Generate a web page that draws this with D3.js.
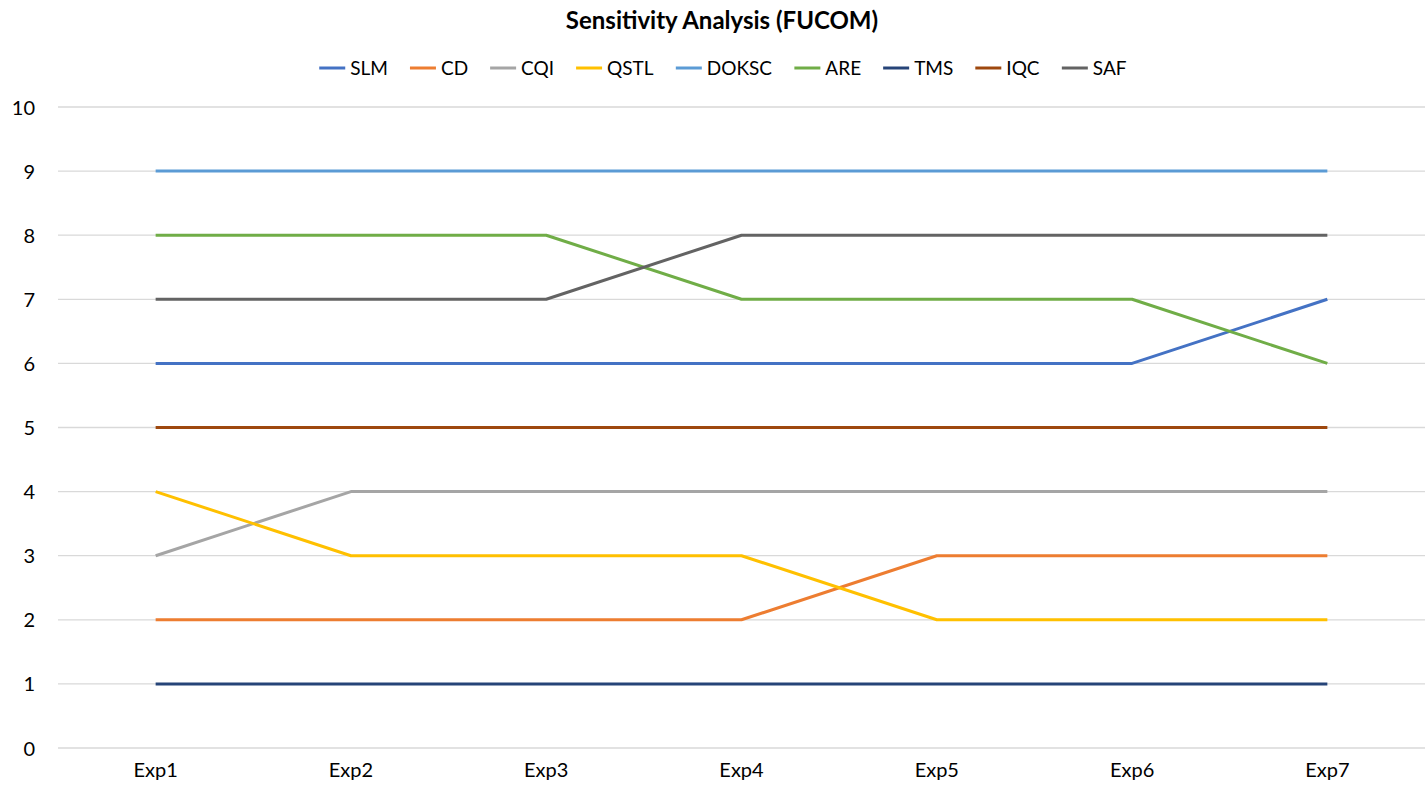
<!DOCTYPE html>
<html>
<head>
<meta charset="utf-8">
<script src="https://cdn.jsdelivr.net/npm/d3@7"></script>
<style>
  html, body { margin: 0; padding: 0; background: #fff; }
  svg { display: block; }
  text { font-family: Lato, "Open Sans", sans-serif; }
</style>
</head>
<body>
<svg id="chart" width="1427" height="790"></svg>
<script>
const categories = ["Exp1", "Exp2", "Exp3", "Exp4", "Exp5", "Exp6", "Exp7"];
const seriesNames = ["SLM", "CD", "CQI", "QSTL", "DOKSC", "ARE", "TMS", "IQC", "SAF"];
const SLM   = [6, 6, 6, 6, 6, 6, 7];
const CD    = [2, 2, 2, 2, 3, 3, 3];
const CQI   = [3, 4, 4, 4, 4, 4, 4];
const QSTL  = [4, 3, 3, 3, 2, 2, 2];
const DOKSC = [9, 9, 9, 9, 9, 9, 9];
const ARE   = [8, 8, 8, 7, 7, 7, 6];
const TMS   = [1, 1, 1, 1, 1, 1, 1];
const IQC   = [5, 5, 5, 5, 5, 5, 5];
const SAF   = [7, 7, 7, 8, 8, 8, 8];
const yTicks = [0, 1, 2, 3, 4, 5, 6, 7, 8, 9, 10];
const colors = ["#4472C4", "#ED7D31", "#A5A5A5", "#FFC000", "#5B9BD5", "#70AD47", "#264478", "#9E480E", "#636363"];

const seriesValues = [SLM, CD, CQI, QSTL, DOKSC, ARE, TMS, IQC, SAF];
const series = seriesNames.map((n, i) => ({ name: n, values: seriesValues[i], color: colors[i] }));

const svg = d3.select("#chart");
const plotLeft = 58, plotRight = 1425, plotTop = 107, plotBottom = 748;

const x = d3.scaleBand().domain(categories).range([plotLeft, plotRight]);
const y = d3.scaleLinear().domain([0, 10]).range([plotBottom, plotTop]);

// gridlines
svg.append("g").selectAll("line").data(yTicks).join("line")
  .attr("x1", plotLeft).attr("x2", plotRight)
  .attr("y1", d => y(d)).attr("y2", d => y(d))
  .attr("stroke", "#D9D9D9").attr("stroke-width", 1.3);

// y axis labels
const yAxis = d3.axisLeft(y).tickValues(yTicks).tickSize(0).tickPadding(0);
const yg = svg.append("g").attr("transform", `translate(35,0)`).call(yAxis);
yg.select(".domain").remove();
yg.selectAll("text").attr("font-size", 20).attr("fill", "#000").attr("font-family", "Lato, sans-serif").attr("dy", "0.35em");

// x axis labels
const xAxis = d3.axisBottom(x).tickSize(0).tickPadding(0);
const xg = svg.append("g").attr("transform", `translate(0,763)`).call(xAxis);
xg.select(".domain").remove();
xg.selectAll("text").attr("font-size", 20).attr("fill", "#000").attr("font-family", "Lato, sans-serif");

// lines
const line = d3.line()
  .x((d, i) => x(categories[i]) + x.bandwidth() / 2)
  .y(d => y(d));

svg.append("g").selectAll("path").data(series).join("path")
  .attr("d", d => line(d.values))
  .attr("fill", "none")
  .attr("stroke", d => d.color)
  .attr("stroke-width", 3)
  .attr("stroke-linejoin", "round");

// title
svg.append("text")
  .attr("x", 722).attr("y", 29)
  .attr("text-anchor", "middle")
  .attr("font-size", 24).attr("font-weight", "bold").attr("fill", "#000")
  .text("Sensitivity Analysis (FUCOM)");

// legend
const lg = svg.append("g");
const legendY = 68;
const items = lg.selectAll("g").data(series).join("g");
items.append("line")
  .attr("x1", 0).attr("x2", 26).attr("y1", 0).attr("y2", 0)
  .attr("stroke", d => d.color).attr("stroke-width", 3);
items.append("text")
  .attr("x", 31).attr("y", 0).attr("dy", "0.35em")
  .attr("font-size", 19).attr("fill", "#000")
  .text(d => d.name);
let cx = 0;
const gap = 22;
items.each(function () {
  const w = this.getBBox().width;
  d3.select(this).attr("transform", `translate(${cx},${legendY})`);
  cx += w + gap;
});
const totalW = cx - gap;
lg.attr("transform", `translate(${723 - totalW / 2},0)`);
</script>
</body>
</html>
